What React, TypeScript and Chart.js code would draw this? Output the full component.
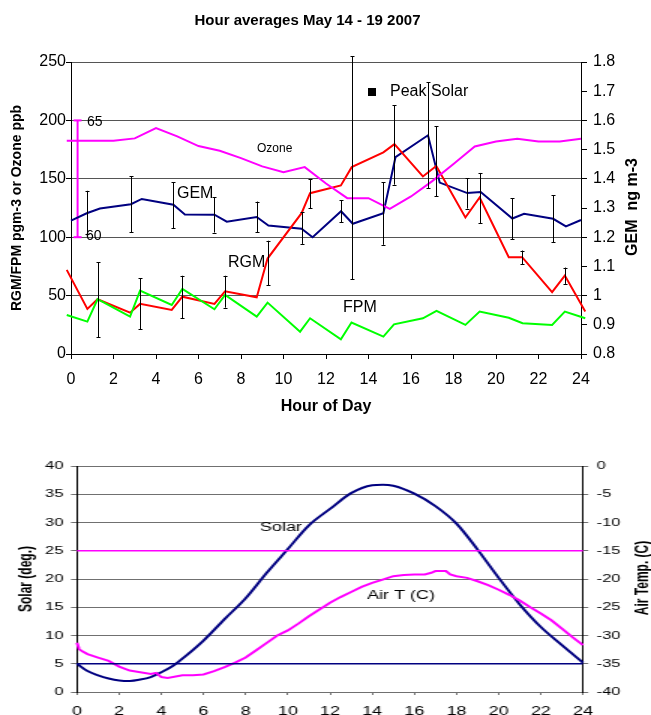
import React, { useEffect, useRef } from 'react';
import { Chart, registerables } from 'chart.js';
Chart.register(...registerables);

const FONT = "Arial, 'Liberation Sans', sans-serif";

// ---------- Top chart data ----------
const hourTicks = [0, 2, 4, 6, 8, 10, 12, 14, 16, 18, 20, 22, 24];
const leftTicksTop = [0, 50, 100, 150, 200, 250];
const gemTicks = [0.8, 0.9, 1.0, 1.1, 1.2, 1.3, 1.4, 1.5, 1.6, 1.7, 1.8];
const gemTickLabels = ['0.8', '0.9', '1', '1.1', '1.2', '1.3', '1.4', '1.5', '1.6', '1.7', '1.8'];

const ozoneHours = [-0.2, 0, 1, 2, 3, 4, 5, 6, 7, 8, 9, 10, 11, 12, 13, 14, 15, 16, 17, 18, 19, 20, 21, 22, 23, 24];
const ozoneValues = [182.6, 182.6, 182.6, 182.6, 184.6, 193.4, 186.3, 178, 174, 167.7, 160.6, 155.7, 160, 146, 133.4, 133.4, 124.3, 134.9, 148, 162.6, 177.7, 182, 184.3, 182, 182, 184.3];

const gemHours = [0, 0.74, 1.36, 2.82, 3.33, 4.82, 5.36, 6.75, 7.33, 8.74, 9.29, 10.85, 11.37, 12.71, 13.26, 14.7, 15.27, 16.8, 17.35, 18.65, 19.28, 20.77, 21.32, 22.69, 23.29, 24];
const gemValues = [1.257, 1.282, 1.298, 1.313, 1.331, 1.311, 1.278, 1.277, 1.253, 1.269, 1.24, 1.229, 1.2, 1.289, 1.246, 1.282, 1.474, 1.549, 1.387, 1.351, 1.355, 1.264, 1.28, 1.263, 1.237, 1.259];

const rgmHours = [-0.2, 0.77, 1.25, 2.78, 3.25, 4.74, 5.24, 6.75, 7.25, 8.74, 9.25, 10.85, 11.25, 12.7, 13.21, 14.7, 15.22, 16.56, 17.19, 18.56, 19.23, 20.6, 21.23, 22.64, 23.24, 24.2];
const rgmValues = [72, 38.6, 46.9, 35.4, 42.9, 37.7, 49.1, 42.9, 53.7, 48.6, 81.7, 120.6, 137.7, 144.3, 160, 172.6, 179.7, 152, 160.9, 116.9, 134, 82.9, 82.9, 52.9, 67.1, 36.3];

const fpmHours = [-0.2, 0.77, 1.25, 2.78, 3.25, 4.74, 5.24, 6.75, 7.25, 8.74, 9.25, 10.78, 11.25, 12.7, 13.2, 14.7, 15.2, 16.56, 17.2, 18.56, 19.23, 20.6, 21.25, 22.64, 23.24, 24.2];
const fpmValues = [33.4, 27.7, 46.9, 32, 54.3, 42, 55.7, 38.3, 50.6, 32, 44, 19.1, 30.6, 12.6, 26.9, 14.9, 25.4, 30.6, 36.9, 24.9, 36.3, 31, 26.3, 24.9, 36.3, 30.6];

const gemErrHours = [0.74, 2.82, 4.82, 6.75, 8.74, 10.85, 12.71, 14.7, 16.8, 18.65, 20.77, 22.69];
const gemErrLow = [1.211, 1.217, 1.231, 1.216, 1.217, 1.177, 1.251, 1.174, 1.368, 1.298, 1.193, 1.182];
const gemErrHigh = [1.359, 1.408, 1.389, 1.337, 1.322, 1.285, 1.326, 1.389, 1.73, 1.402, 1.334, 1.343];

const rgmErrHours = [1.25, 3.25, 5.24, 7.25, 9.25, 11.25, 13.21, 15.22, 17.19, 19.23, 21.23, 23.24];
const rgmErrLow = [14.3, 21.1, 30.6, 39.7, 59, 124.9, 64, 145, 135, 112, 76.9, 60];
const rgmErrHigh = [78.6, 64.9, 67, 67, 97, 149.7, 255, 213, 195, 155, 88.6, 74];

// ozone scale bar (60 ppb at 100, 65 ppb at 200)
const ozoneBarHour = [0.31, 0.31];
const ozoneBarValues = [100, 200];

// ---------- Bottom chart data ----------
const solarTicks = [0, 5, 10, 15, 20, 25, 30, 35, 40];
const airTicks = [-40, -35, -30, -25, -20, -15, -10, -5, 0];

const solarHours = [0, 0.5, 1, 1.5, 2, 2.5, 3, 3.5, 4, 4.5, 5, 6, 7, 8, 9, 10, 11, 12, 13, 14, 14.5, 15, 16, 17, 18, 19, 20, 21, 22, 23, 24];
const solarValues = [5.0, 3.7, 2.95, 2.4, 2.05, 1.95, 2.2, 2.65, 3.5, 4.5, 5.9, 9.1, 12.9, 16.6, 21.1, 25.3, 29.5, 32.4, 35.2, 36.6, 36.7, 36.5, 35.1, 32.9, 29.8, 25.2, 20.2, 15.5, 11.5, 8.3, 5.2];

const airHours = [0, 0.1, 0.25, 0.5, 1, 1.5, 2, 2.5, 3, 3.5, 3.75, 4, 4.3, 5, 5.5, 6, 6.5, 7, 7.5, 8, 8.5, 9, 9.5, 10, 10.5, 11, 11.5, 12, 12.5, 13, 13.5, 14, 14.5, 15, 15.5, 16, 16.5, 16.8, 17, 17.5, 17.7, 18, 18.5, 19, 19.5, 20, 20.5, 21, 21.5, 22, 22.5, 23, 23.5, 24];
const airValues = [-31.3, -32.4, -32.8, -33.3, -33.9, -34.5, -35.5, -36.2, -36.5, -36.8, -36.6, -37.35, -37.5, -37.05, -37.05, -36.9, -36.3, -35.6, -34.8, -33.9, -32.6, -31.3, -30, -29.1, -27.9, -26.6, -25.4, -24.2, -23.2, -22.3, -21.4, -20.7, -20.1, -19.5, -19.3, -19.2, -19.2, -18.9, -18.6, -18.6, -19.2, -19.5, -19.8, -20.4, -21.1, -21.9, -22.8, -23.8, -25, -26.1, -27.3, -28.8, -30.3, -31.7];

const refLineHours = [0, 24];
const solarRefValues = [5, 5];
const airRefValues = [25, 25]; // on left scale

const pts = (xs: number[], ys: number[]) => xs.map((x, i) => ({ x, y: ys[i] }));
const setTicks = (arr: number[]) => (s: any) => { s.ticks = arr.map((v) => ({ value: v })); };

function drawText(ctx: CanvasRenderingContext2D, text: string, x: number, y: number, font: string, align: CanvasTextAlign = 'left', rotate = 0, color = '#000') {
  ctx.save();
  ctx.font = font;
  ctx.fillStyle = color;
  ctx.textAlign = align;
  ctx.textBaseline = 'middle';
  ctx.translate(x, y);
  if (rotate) ctx.rotate(rotate);
  ctx.fillText(text, 0, 0);
  ctx.restore();
}

const topPlugin = {
  id: 'topExtras',
  afterDatasetsDraw(chart: any) {
    const { ctx, scales } = chart;
    const xs = scales.x;
    const bars = (hours: number[], lo: number[], hi: number[], ys: any) => {
      ctx.save();
      ctx.strokeStyle = '#000';
      ctx.lineWidth = 1;
      hours.forEach((h, i) => {
        const px = Math.round(xs.getPixelForValue(h)) + 0.5;
        const p1 = ys.getPixelForValue(lo[i]);
        const p2 = ys.getPixelForValue(hi[i]);
        ctx.beginPath();
        ctx.moveTo(px, p1); ctx.lineTo(px, p2);
        ctx.moveTo(px - 2, Math.round(p1) + 0.5); ctx.lineTo(px + 2, Math.round(p1) + 0.5);
        ctx.moveTo(px - 2, Math.round(p2) + 0.5); ctx.lineTo(px + 2, Math.round(p2) + 0.5);
        ctx.stroke();
      });
      ctx.restore();
    };
    bars(gemErrHours, gemErrLow, gemErrHigh, scales.y2);
    bars(rgmErrHours, rgmErrLow, rgmErrHigh, scales.y);
  },
  afterDraw(chart: any) {
    const { ctx } = chart;
    drawText(ctx, 'Hour averages May 14 - 19 2007', 307.5, 20.5, `bold 15px ${FONT}`, 'center');
    drawText(ctx, 'GEM', 177, 194, `16px ${FONT}`);
    drawText(ctx, 'RGM', 228, 263, `16px ${FONT}`);
    drawText(ctx, 'FPM', 343, 308, `16px ${FONT}`);
    drawText(ctx, 'Ozone', 257, 148.5, `12px ${FONT}`);
    drawText(ctx, '65', 87, 122, `14px ${FONT}`);
    drawText(ctx, '60', 86, 236, `14px ${FONT}`);
    ctx.save();
    ctx.fillStyle = '#000';
    ctx.fillRect(368, 88, 8, 8);
    ctx.restore();
    drawText(ctx, 'Peak Solar', 390, 92, `16px ${FONT}`);
    drawText(ctx, 'GEM  ng m-3', 633, 207, `bold 16px ${FONT}`, 'center', -Math.PI / 2);
  },
};

const botPlugin = {
  id: 'botExtras',
  afterDraw(chart: any) {
    const { ctx } = chart;
    drawText(ctx, 'Solar', 173.3, 108, `12px ${FONT}`);
    drawText(ctx, 'Air T (C)', 244.7, 175.5, `12px ${FONT}`);
    drawText(ctx, 'Air Temp. (C)', 429, 158, `bold 12px ${FONT}`, 'center', -Math.PI / 2);
  },
};

function lineDs(data: any[], color: string, yAxisID: string, width = 2, extra: any = {}) {
  return {
    type: 'line',
    data,
    borderColor: color,
    backgroundColor: color,
    borderWidth: width,
    pointRadius: 0,
    pointHoverRadius: 0,
    tension: 0,
    fill: false,
    yAxisID,
    clip: false,
    ...extra,
  };
}

function topConfig(): any {
  return {
    type: 'line',
    data: {
      datasets: [
        lineDs(pts(ozoneHours, ozoneValues), '#FF00FF', 'y'),
        lineDs(pts(fpmHours, fpmValues), '#00FF00', 'y'),
        lineDs(pts(rgmHours, rgmValues), '#FF0000', 'y'),
        lineDs(pts(gemHours, gemValues), '#000080', 'y2'),
        lineDs(pts(ozoneBarHour, ozoneBarValues), '#FF00FF', 'y', 2, {
          pointStyle: 'line', pointRadius: 4, pointBorderWidth: 2, pointBorderColor: '#FF00FF',
        }),
      ],
    },
    options: {
      responsive: false,
      animation: false,
      devicePixelRatio: 1,
      layout: { padding: { top: 62, left: 0, right: 0, bottom: 0 } },
      plugins: { legend: { display: false }, tooltip: { enabled: false }, title: { display: false } },
      events: [],
      scales: {
        x: {
          type: 'linear', min: 0, max: 24,
          afterBuildTicks: setTicks(hourTicks),
          afterFit: (s: any) => { s.height = 66; },
          grid: { drawOnChartArea: false, tickLength: 5, tickColor: '#000' },
          border: { color: '#000', width: 1 },
          ticks: { font: { family: FONT, size: 16 }, color: '#000', padding: 11, maxRotation: 0, autoSkip: false, callback: (v: number) => String(v) },
          title: { display: true, text: 'Hour of Day', font: { family: FONT, size: 16, weight: 'bold' }, color: '#000', padding: { top: 0, bottom: 4 } },
        },
        y: {
          type: 'linear', position: 'left', min: 0, max: 250,
          afterBuildTicks: setTicks(leftTicksTop),
          afterFit: (s: any) => { s.width = 71; },
          grid: { color: '#555', tickColor: '#000', tickLength: 5 },
          border: { color: '#000', width: 1 },
          ticks: { font: { family: FONT, size: 16 }, color: '#000', padding: 0, autoSkip: false, callback: (v: number) => String(v) },
          title: { display: true, text: 'RGM/FPM pgm-3 or Ozone ppb', font: { family: FONT, size: 14, weight: 'bold' }, color: '#000', padding: { top: 8.6, bottom: 0 } },
        },
        y2: {
          type: 'linear', position: 'right', min: 0.8, max: 1.8,
          afterBuildTicks: setTicks(gemTicks),
          afterFit: (s: any) => { s.width = 70; },
          grid: { drawOnChartArea: false, tickColor: '#000', tickLength: 6 },
          border: { color: '#000', width: 1 },
          ticks: { font: { family: FONT, size: 16 }, color: '#000', padding: 6, autoSkip: false, callback: (_v: number, i: number) => gemTickLabels[i] },
        },
      },
    },
    plugins: [topPlugin],
  };
}

function botConfig(): any {
  return {
    type: 'line',
    data: {
      datasets: [
        lineDs(pts(refLineHours, airRefValues), '#FF00FF', 'y', 1.5),
        lineDs(pts(refLineHours, solarRefValues), '#000080', 'y', 1.5),
        lineDs(pts(airHours, airValues), '#FF00FF', 'y2', 2),
        lineDs(pts(solarHours, solarValues), '#000080', 'y', 2, { tension: 0.4, cubicInterpolationMode: 'monotone' }),
      ],
    },
    options: {
      responsive: false,
      animation: false,
      devicePixelRatio: 1,
      layout: { padding: { top: 46, left: 0, right: 0, bottom: 0 } },
      plugins: { legend: { display: false }, tooltip: { enabled: false }, title: { display: false } },
      events: [],
      scales: {
        x: {
          type: 'linear', min: 0, max: 24,
          afterBuildTicks: setTicks(hourTicks),
          afterFit: (s: any) => { s.height = 23; },
          grid: { drawOnChartArea: false, tickLength: 3, tickColor: '#707070' },
          border: { color: '#707070', width: 1 },
          ticks: { font: { family: FONT, size: 12 }, color: '#000', padding: 9.5, maxRotation: 0, autoSkip: false, callback: (v: number) => String(v) },
        },
        y: {
          type: 'linear', position: 'left', min: 0, max: 40,
          afterBuildTicks: setTicks(solarTicks),
          afterFit: (s: any) => { s.width = 51.33; },
          grid: { color: '#707070', tickColor: '#707070', tickLength: 4 },
          border: { color: '#000', width: 1 },
          ticks: { font: { family: FONT, size: 11 }, color: '#000', padding: 5, autoSkip: false, callback: (v: number) => String(v) },
          title: { display: true, text: 'Solar (deg.)', font: { family: FONT, size: 12, weight: 'bold' }, color: '#000', padding: { top: 10, bottom: 0 } },
        },
        y2: {
          type: 'linear', position: 'right', min: -40, max: 0,
          afterBuildTicks: setTicks(airTicks),
          afterFit: (s: any) => { s.width = 45.33; },
          grid: { drawOnChartArea: false, tickColor: '#707070', tickLength: 3.5 },
          border: { color: '#000', width: 1 },
          ticks: { font: { family: FONT, size: 11 }, color: '#000', padding: 5.6, autoSkip: false, callback: (v: number) => String(v) },
        },
      },
    },
    plugins: [botPlugin],
  };
}

export default function App() {
  const topRef = useRef<HTMLCanvasElement>(null);
  const botRef = useRef<HTMLCanvasElement>(null);
  useEffect(() => {
    const top = new Chart(topRef.current as HTMLCanvasElement, topConfig());
    const bot = new Chart(botRef.current as HTMLCanvasElement, botConfig());
    return () => { top.destroy(); bot.destroy(); };
  }, []);
  return (
    <div style={{ position: 'absolute', left: 0, top: 0, width: 651, height: 715, background: '#fff', overflow: 'hidden' }}>
      <canvas ref={topRef} width={651} height={420} style={{ position: 'absolute', left: 0, top: 0, width: 651, height: 420 }} />
      <div style={{ position: 'absolute', left: 0, top: 420, width: 434, height: 295, transform: 'scaleX(1.5)', transformOrigin: '0 0' }}>
        <canvas ref={botRef} width={434} height={295} style={{ display: 'block', width: 434, height: 295 }} />
      </div>
    </div>
  );
}
